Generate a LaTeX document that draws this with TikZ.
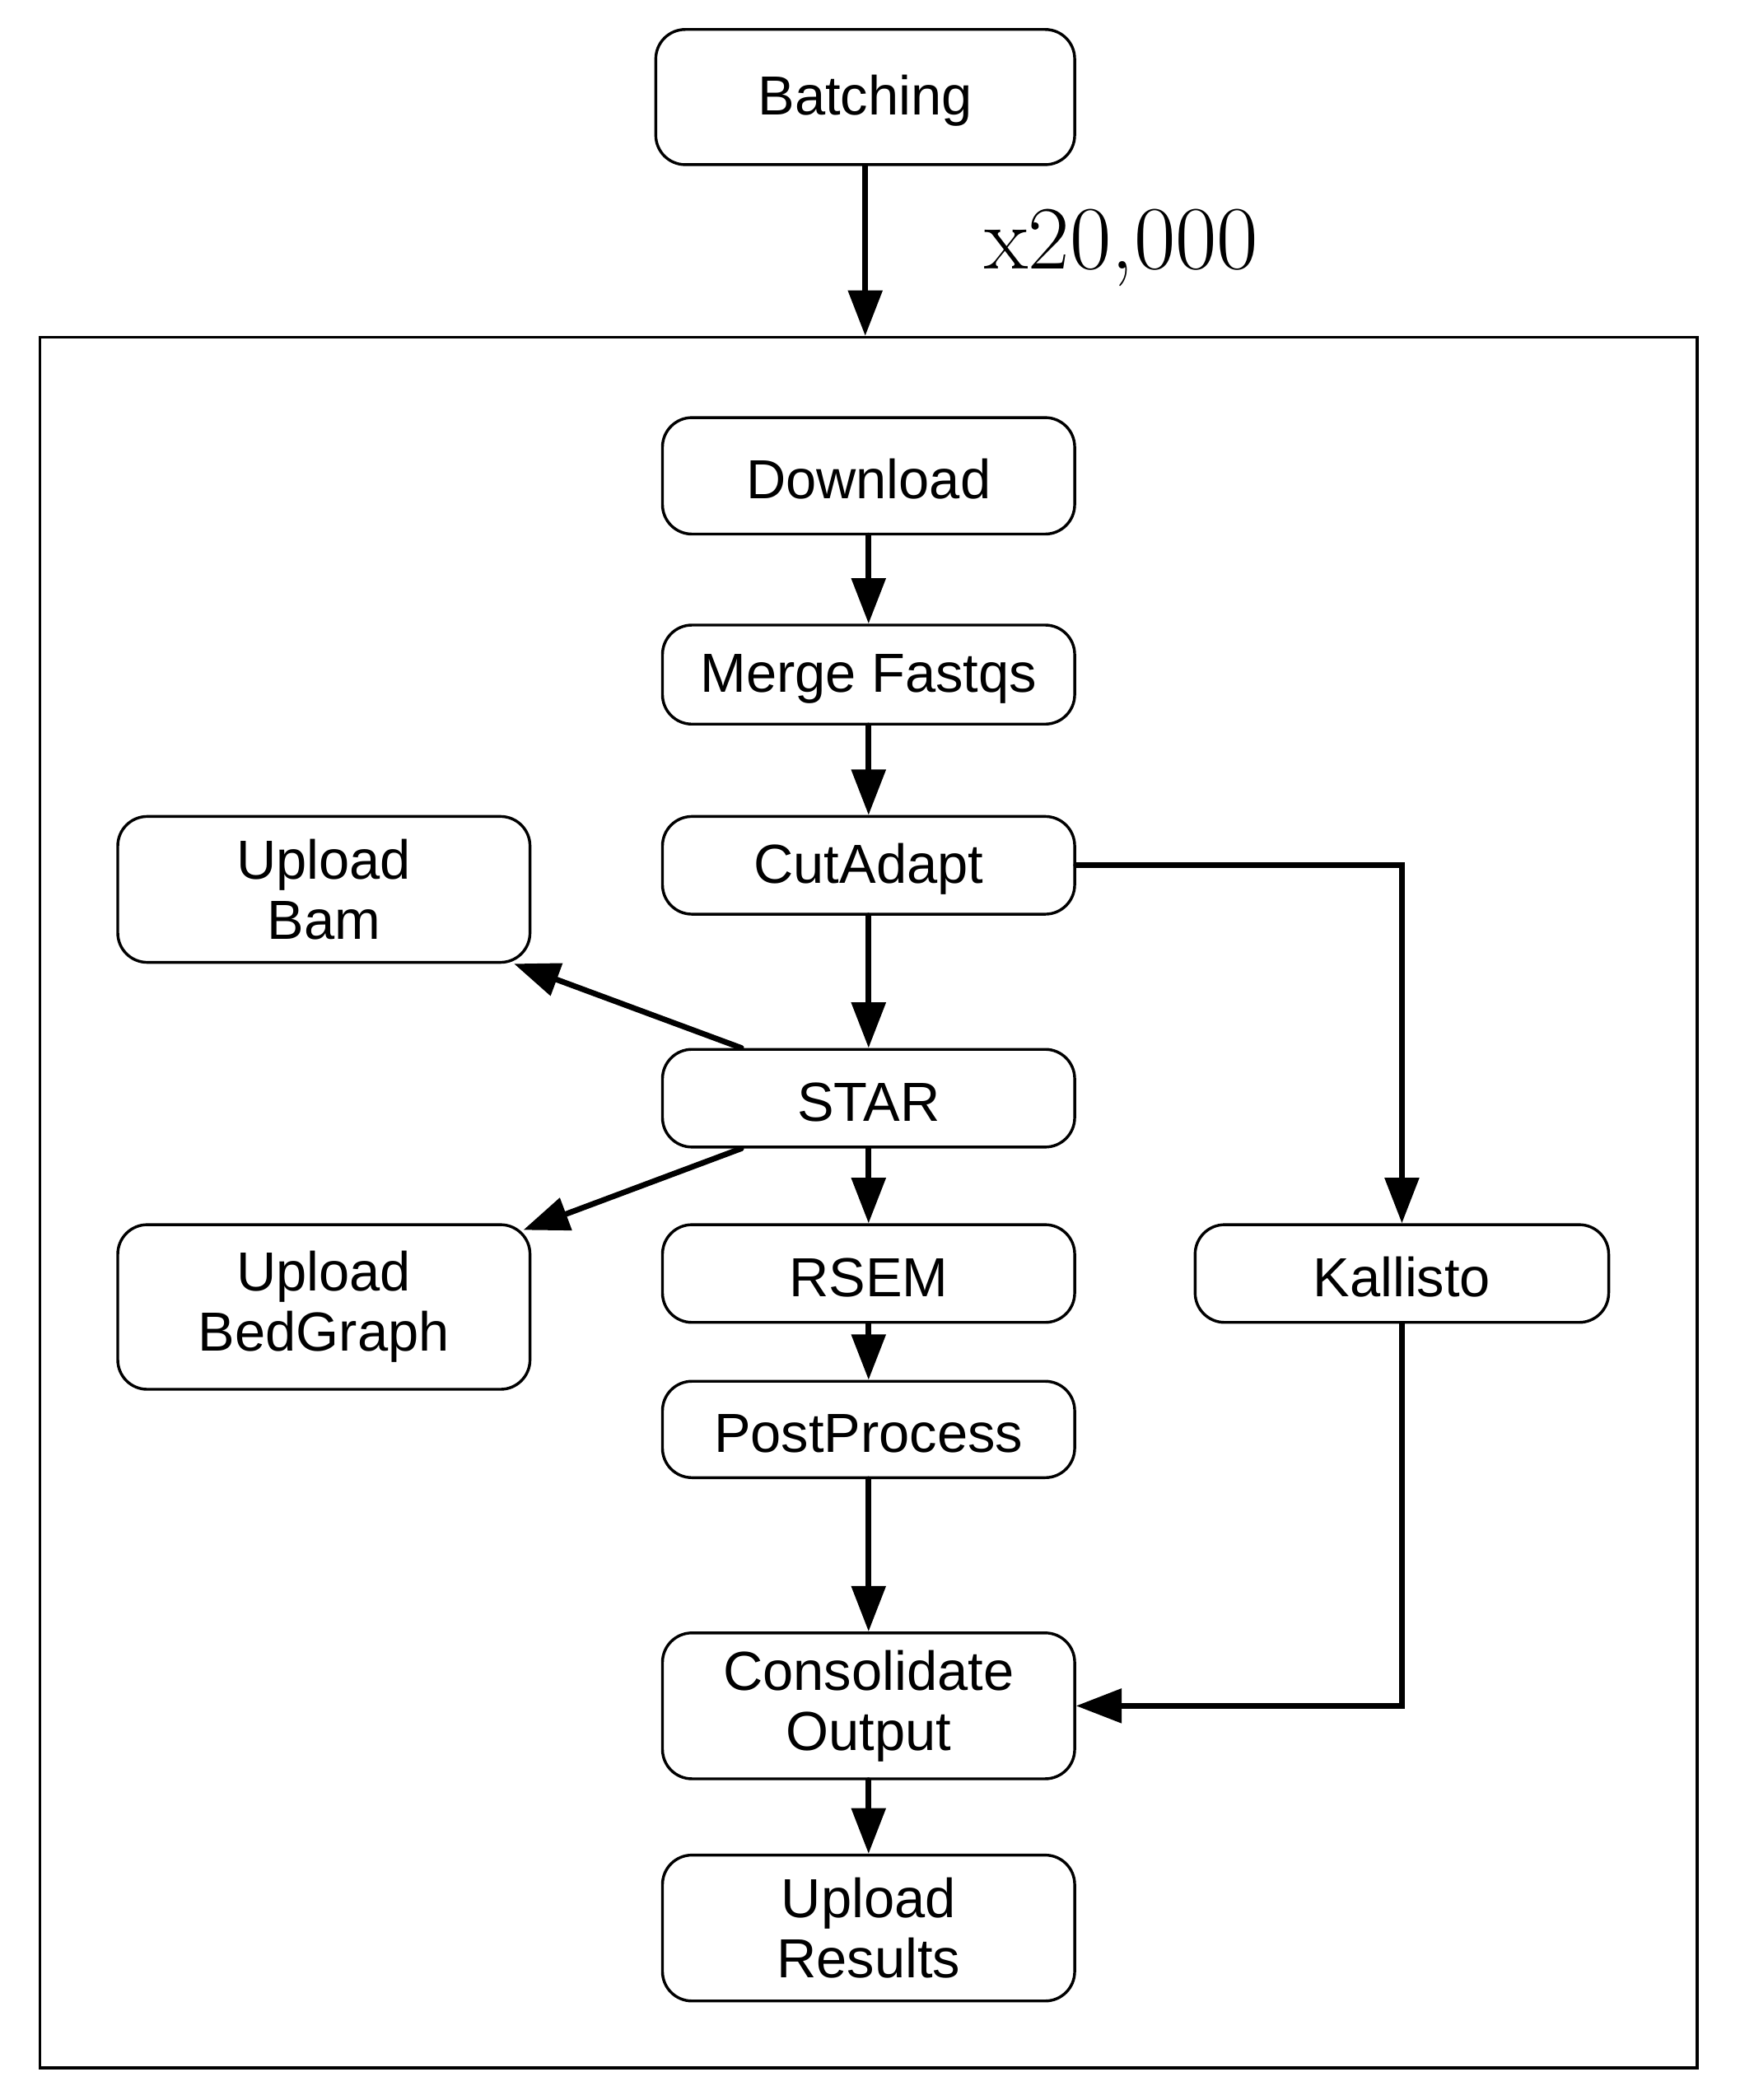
\documentclass[tikz,border=0pt]{standalone}
\usepackage{fontspec}
\setsansfont{Liberation Sans}
\usetikzlibrary{arrows.meta}

\begin{document}
\begin{tikzpicture}[line width=0.6pt,
    stage/.style={draw, rounded corners=2.2mm, minimum width=3.08cm, minimum height=0.73cm, inner sep=0pt, align=center, font=\sffamily\fontsize{11.7}{12.8}\selectfont},
    oneline/.style={stage, text height=9.9pt},
    flow/.style={-{Triangle[length=3.4mm,width=2.5mm]}, line width=1.2pt, line cap=round}]
    \useasboundingbox (0,0) rectangle (13,-15.69);
    \node[draw, minimum width=12.38cm, minimum height=12.93cm] (loop) at (6.49,-8.985) {};
    \node[oneline, minimum width=3.13cm, minimum height=1.01cm] (batch) at (6.465,-0.725) {Batching};
    \node[anchor=base, font=\fontsize{19.2}{21}\selectfont] (mult) at (8.38,-2.01) {x20,000};
    \node[oneline, minimum height=0.87cm] (download) at (6.49,-3.555) {Download};
    \node[oneline, minimum height=0.74cm] (merge) at (6.49,-5.04) {Merge Fastqs};
    \node[oneline] (cut) at (6.49,-6.465) {CutAdapt};
    \node[stage, minimum height=1.09cm] (bam) at (2.42,-6.645) {Upload\\Bam};
    \node[oneline] (star) at (6.49,-8.205) {STAR};
    \node[stage, minimum height=1.23cm] (bed) at (2.42,-9.765) {Upload\\BedGraph};
    \node[oneline] (rsem) at (6.49,-9.515) {RSEM};
    \node[oneline, minimum width=3.09cm] (kal) at (10.475,-9.515) {Kallisto};
    \node[oneline, minimum height=0.72cm] (post) at (6.49,-10.68) {PostProcess};
    \node[stage, minimum height=1.09cm] (cons) at (6.49,-12.745) {Consolidate\\Output};
    \node[stage, minimum height=1.09cm] (res) at (6.49,-14.405) {Upload\\Results};
    % connectors
    \draw[flow] (batch.south) -- (batch.south |- loop.north);
    \draw[flow] (download) -- (merge);
    \draw[flow] (merge) -- (cut);
    \draw[flow] (cut) -- (star);
    \draw[flow] (cut.east) -| (kal.north);
    \draw[flow] ([xshift=6mm]star.north west) -- ([xshift=-1.3mm]bam.south east);
    \draw[flow] ([xshift=6mm]star.south west) -- ([shift={(-0.6mm,-0.5mm)}]bed.north east);
    \draw[flow] (star) -- (rsem);
    \draw[flow] (rsem) -- (post);
    \draw[flow] (post) -- (cons);
    \draw[flow] (kal.south) |- (cons.east);
    \draw[flow] (cons) -- (res);
\end{tikzpicture}
\end{document}
